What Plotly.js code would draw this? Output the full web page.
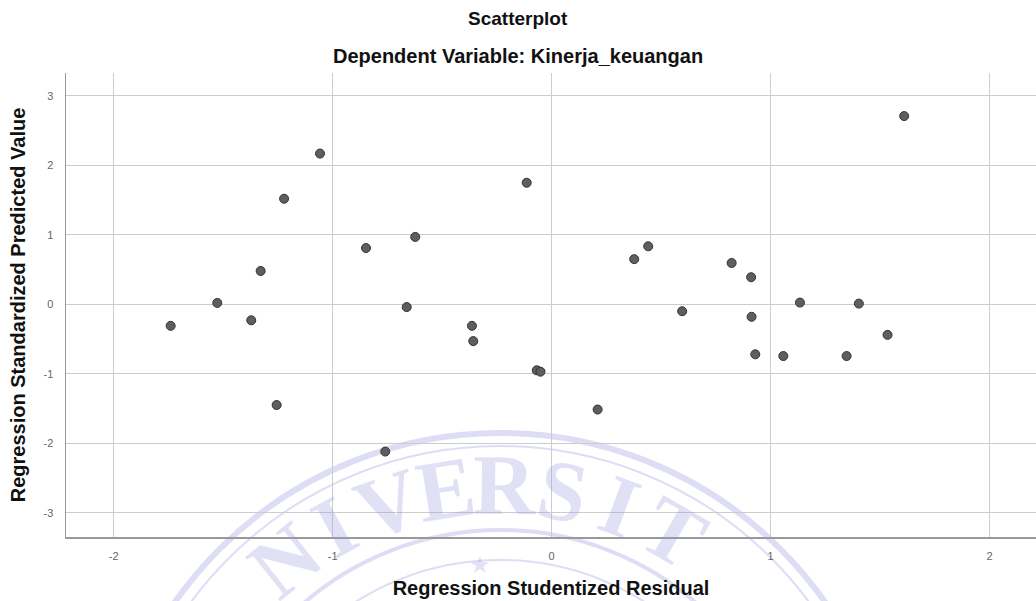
<!DOCTYPE html>
<html>
<head>
<meta charset="utf-8">
<script src="https://cdn.plot.ly/plotly-3.0.1.min.js"></script>
<style>
  html, body { margin: 0; padding: 0; background: #ffffff; }
  #chart { width: 1036px; height: 601px; }
</style>
</head>
<body>
<div id="chart"></div>
<script>
// Regression Studentized Residual (x) vs Regression Standardized Predicted Value (y)
var studentizedResidual = [
  -1.740, -1.527, -1.372, -1.329, -1.256, -1.222, -1.058, -0.848, -0.760, -0.662,
  -0.623, -0.364, -0.358, -0.114, -0.068, -0.051, 0.210, 0.377, 0.441, 0.596,
  0.822, 0.911, 0.913, 0.930, 1.058, 1.134, 1.347, 1.403, 1.534, 1.610
];
var standardizedPredicted = [
  -0.31, 0.02, -0.23, 0.48, -1.45, 1.52, 2.17, 0.81, -2.12, -0.04,
  0.97, -0.31, -0.53, 1.75, -0.95, -0.97, -1.515, 0.65, 0.835, -0.10,
  0.595, 0.39, -0.18, -0.72, -0.745, 0.025, -0.745, 0.01, -0.44, 2.71
];
var xTicks = [-2, -1, 0, 1, 2];
var yTicks = [-3, -2, -1, 0, 1, 2, 3];
var chartTitle = "Scatterplot";
var chartSubtitle = "Dependent Variable: Kinerja_keuangan";
var xTitle = "Regression Studentized Residual";
var yTitle = "Regression Standardized Predicted Value";
var watermarkLetters = ["N", "I", "V", "E", "R", "S", "I", "T"];

// plot-area geometry in pixels (for decorative watermark placement)
var M = {l: 66, r: 0, t: 73, b: 64};
var W = 1036, H = 601;
var pw = W - M.l - M.r, ph = H - M.t - M.b;
function px2paperX(px) { return (px - M.l) / pw; }
function px2paperY(py) { return (H - M.b - py) / ph; }

var wmColor = "rgba(150,150,225,0.32)";
var cx = 500, cy = 830;
var shapes = [];
[[397, 6], [384, 2], [300, 4], [270, 2]].forEach(function (r) {
  shapes.push({
    type: "circle", xref: "paper", yref: "paper", layer: "below",
    x0: px2paperX(cx - r[0]), x1: px2paperX(cx + r[0]),
    y0: px2paperY(cy + r[0]), y1: px2paperY(cy - r[0]),
    line: {color: wmColor, width: r[1]}, fillcolor: "rgba(0,0,0,0)"
  });
});

var annotations = [
  {text: chartTitle, xref: "paper", yref: "paper", x: px2paperX(518), y: px2paperY(19),
   xanchor: "center", yanchor: "middle", showarrow: false,
   font: {family: "Liberation Sans, Arial, sans-serif", size: 19, color: "#111", weight: "bold"}},
  {text: chartSubtitle, xref: "paper", yref: "paper", x: px2paperX(518), y: px2paperY(56),
   xanchor: "center", yanchor: "middle", showarrow: false,
   font: {family: "Liberation Sans, Arial, sans-serif", size: 20, color: "#111", weight: "bold"}}
];

var rL = 345, step = 9.8, start = -38.5;
watermarkLetters.forEach(function (ch, i) {
  var deg = start + i * step;
  var ang = deg * Math.PI / 180;
  var lx = cx + rL * Math.sin(ang), ly = cy - rL * Math.cos(ang);
  annotations.push({
    text: ch, xref: "paper", yref: "paper", x: px2paperX(lx), y: px2paperY(ly),
    xanchor: "center", yanchor: "middle", showarrow: false, textangle: deg,
    font: {family: "Liberation Serif, serif", size: 86, color: "rgba(155,155,225,0.30)", weight: "bold"}
  });
});
annotations.push({
  text: "★", xref: "paper", yref: "paper", x: px2paperX(480), y: px2paperY(565),
  xanchor: "center", yanchor: "middle", showarrow: false,
  font: {family: "DejaVu Sans", size: 24, color: "rgba(155,155,225,0.30)"}
});

var trace = {
  type: "scatter", mode: "markers",
  x: studentizedResidual, y: standardizedPredicted,
  marker: {size: 9, color: "#5e5e5e", line: {color: "#333333", width: 1}},
  hoverinfo: "x+y", showlegend: false
};

var axisFont = {family: "Liberation Sans, Arial, sans-serif", size: 11, color: "#666"};
var titleFont = {family: "Liberation Sans, Arial, sans-serif", size: 20, color: "#111", weight: "bold"};

var layout = {
  width: W, height: H,
  margin: M,
  paper_bgcolor: "#ffffff",
  plot_bgcolor: "rgba(0,0,0,0)",
  showlegend: false,
  xaxis: {
    range: [-2.218, 2.212], tickvals: xTicks, ticktext: xTicks.map(String),
    showgrid: true, gridcolor: "#cccccc", gridwidth: 1, zeroline: false,
    showline: true, linecolor: "#999999", linewidth: 1.5, mirror: false,
    ticks: "", ticklabelstandoff: 8, tickfont: axisFont,
    title: {text: xTitle, font: titleFont, standoff: 20},
    automargin: false
  },
  yaxis: {
    range: [-3.35, 3.33], tickvals: yTicks, ticktext: yTicks.map(String),
    showgrid: true, gridcolor: "#cccccc", gridwidth: 1, zeroline: false,
    showline: true, linecolor: "#999999", linewidth: 1.5, mirror: false,
    ticks: "", ticklabelstandoff: 9, tickfont: axisFont,
    title: {text: yTitle, font: titleFont, standoff: 12},
    automargin: false
  },
  shapes: shapes,
  annotations: annotations
};

Plotly.newPlot("chart", [trace], layout, {displayModeBar: false, staticPlot: true});
</script>
</body>
</html>
